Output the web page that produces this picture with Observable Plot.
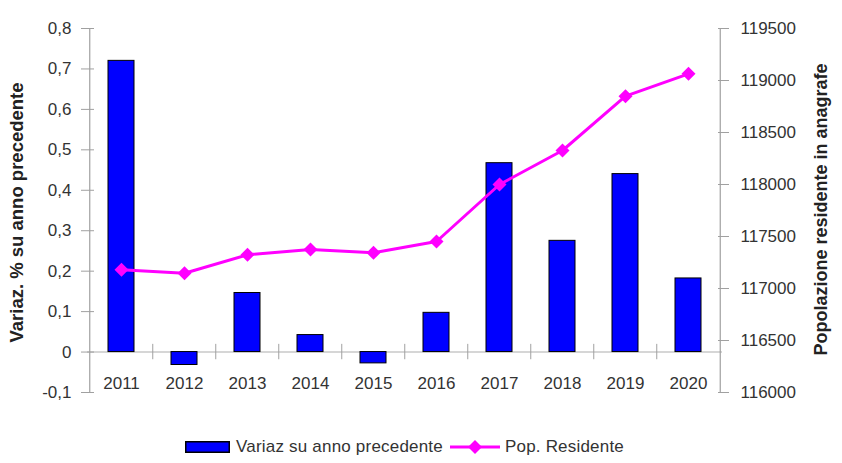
<!DOCTYPE html>
<html><head><meta charset="utf-8">
<script src="https://cdn.jsdelivr.net/npm/d3@7"></script>
<script src="https://cdn.jsdelivr.net/npm/@observablehq/plot@0.6"></script>
<style>
body{margin:0;background:#fff;font-family:"Liberation Sans",Arial,sans-serif;}
#legend{display:flex;align-items:center;height:32px;padding-top:6px;padding-left:185px;font-size:17px;color:#333;}
#legend span{letter-spacing:0.2px;}
</style></head><body>
<div id="chart"></div>
<div id="legend"></div>
<script>
const years = ["2011","2012","2013","2014","2015","2016","2017","2018","2019","2020"];
const variazione = [0.72,-0.032,0.146,0.042,-0.028,0.097,0.467,0.275,0.44,0.182];
const popolazione = [117180,117147,117324,117375,117343,117452,118000,118327,118849,119064];
const leftTicks = [-0.1,0,0.1,0.2,0.3,0.4,0.5,0.6,0.7,0.8];
const rightTicks = [116000,116500,117000,117500,118000,118500,119000,119500];
const leftTitle = "Variaz. % su anno precedente";
const rightTitle = "Popolazione residente in anagrafe";
const legendBar = "Variaz su anno precedente";
const legendLine = "Pop. Residente";

const yMin = -0.1, yMax = 0.8, popMin = 116000, popMax = 119500;
const toY = p => yMin + (p - popMin) / (popMax - popMin) * (yMax - yMin);
const fromY = v => popMin + (v - yMin) / (yMax - yMin) * (popMax - popMin);
const data = years.map((year, i) => ({year, variazione: variazione[i], popY: toY(popolazione[i])}));

const W = 842, H = 425, mL = 87, mR = 120, mT = 28, mB = 33;
const step = (W - mL - mR) / years.length;
const fmtL = v => Math.abs(v) < 1e-9 ? "0" : v.toFixed(1).replace(".", ",");
const fmtR = v => String(Math.round(fromY(v)));
const axisGray = "#a0a0a0";

const chart = Plot.plot({
  width: W, height: H,
  marginLeft: mL, marginRight: mR, marginTop: mT, marginBottom: mB,
  style: {fontFamily: "'Liberation Sans', Arial, sans-serif", color: "#333", background: "#fff", overflow: "visible"},
  x: {type: "band", domain: years, paddingInner: 0.58, paddingOuter: 0.29, axis: null},
  y: {domain: [yMin, yMax]},
  marks: [
    Plot.ruleY([0], {stroke: "#c8c8c8", strokeWidth: 1.5}),
    Plot.ruleX(years.slice(1), {x: d => d, y1: -0.019, y2: 0.019, dx: -step / 2, stroke: axisGray}),
    Plot.barY(data, {x: "year", y: "variazione", fill: "#0000ff", stroke: "#000", strokeWidth: 1}),
    Plot.ruleX([years[0]], {x: d => d, dx: -step / 2, stroke: axisGray, strokeWidth: 1.2}),
    Plot.ruleX([years[years.length - 1]], {x: d => d, dx: step / 2, stroke: axisGray, strokeWidth: 1.2}),
    Plot.axisY(leftTicks, {anchor: "left", tickSize: 13, dx: 7, tickFormat: () => "", stroke: axisGray, label: null}),
    Plot.axisY(leftTicks, {anchor: "left", tickSize: 0, tickPadding: 16, tickFormat: fmtL, fontSize: 17, label: null}),
    Plot.axisY(rightTicks.map(toY), {anchor: "right", tickSize: 11, dx: -5, tickFormat: () => "", stroke: axisGray, label: null}),
    Plot.axisY(rightTicks.map(toY), {anchor: "right", tickSize: 0, tickPadding: 18, tickFormat: fmtR, fontSize: 17, label: null}),
    Plot.text(data, {x: "year", y: () => 0, dy: 31, text: "year", fontSize: 17, fill: "#333"}),
    Plot.lineY(data, {x: "year", y: "popY", stroke: "#ff00ff", strokeWidth: 3}),
    Plot.dot(data, {x: "year", y: "popY", symbol: "square", rotate: 45, r: 5.6, fill: "#ff00ff"}),
    Plot.text([leftTitle], {frameAnchor: "left", textAnchor: "middle", rotate: -90, dx: -70, dy: 2, fontSize: 18.5, fontWeight: "bold", fill: "#222"}),
    Plot.text([rightTitle], {frameAnchor: "right", textAnchor: "middle", rotate: -90, dx: 99, dy: -1, fontSize: 18, fontWeight: "bold", fill: "#222"})
  ]
});
document.getElementById("chart").appendChild(chart);

const lg = document.getElementById("legend");
lg.innerHTML = `
<svg width="45" height="12" style="display:block"><rect x="0.75" y="0.75" width="43.5" height="10.5" fill="#0000ff" stroke="#000" stroke-width="1.5"/></svg>
<span style="margin-left:6px">${legendBar}</span>
<svg width="50" height="16" style="display:block;margin-left:7px"><line x1="0" y1="8" x2="50" y2="8" stroke="#ff00ff" stroke-width="3"/><path d="M25,1 L32,8 L25,15 L18,8 Z" fill="#ff00ff"/></svg>
<span style="margin-left:5px">${legendLine}</span>`;
</script>
</body></html>
